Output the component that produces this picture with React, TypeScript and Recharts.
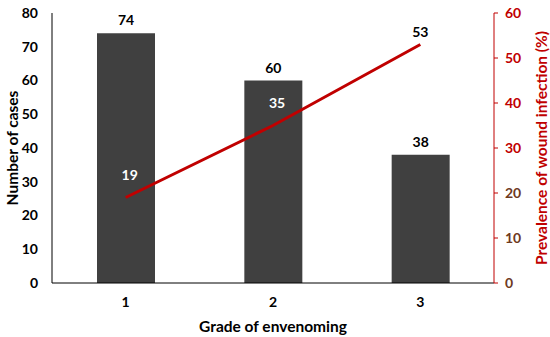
import { ComposedChart, Bar, Line, XAxis, YAxis, LabelList, Label } from 'recharts';

const grades = ['1', '2', '3'];
const cases = [74, 60, 38];
const prevalence = [19, 35, 53];
const leftTicks = [0, 10, 20, 30, 40, 50, 60, 70, 80];
const rightTicks = [0, 10, 20, 30, 40, 50, 60];

const data = grades.map((g, i) => ({ grade: g, cases: cases[i], prevalence: prevalence[i] }));

const font = 'Lato, "Open Sans", sans-serif';
const red = '#c00000';

function RightTick(props: any) {
  const { x, y, payload } = props;
  const v = payload.value;
  return (
    <text x={x} y={y} dy={5} textAnchor="start" fontFamily={font} fontWeight={700} fontSize={14}
      fill={v <= 20 ? '#6e3a1e' : red}>
      {v}
    </text>
  );
}

function LineLabel(props: any) {
  const { x, y, value, index } = props;
  const last = index === prevalence.length - 1;
  return (
    <text x={x + (last ? 0 : 4)} y={y - (last ? 13 : 23)} dy={5} textAnchor="middle"
      fontFamily={font} fontWeight={700} fontSize={14} fill={last ? '#000' : '#fff'}>
      {value}
    </text>
  );
}

export default function App() {
  return (
    <div style={{ position: 'absolute', left: 0, top: 0, background: '#fff' }}>
      <ComposedChart width={550} height={337} data={data}
        margin={{ top: 13, right: 0, bottom: 0, left: 0 }}>
        <XAxis dataKey="grade" height={54} tickLine={false} tickMargin={8}
          axisLine={{ stroke: '#000' }}
          tick={{ fill: '#000', fontFamily: font, fontWeight: 700, fontSize: 14 }}>
          <Label value="Grade of envenoming" position="insideBottom" offset={5}
            style={{ fill: '#000', fontFamily: font, fontWeight: 700, fontSize: 15.5 }} />
        </XAxis>
        <YAxis yAxisId="left" width={52} domain={[0, 80]} ticks={leftTicks} interval={0}
          tickLine={false} tickMargin={8} axisLine={{ stroke: '#000' }}
          tick={{ fill: '#000', fontFamily: font, fontWeight: 700, fontSize: 14 }}>
          <Label value="Number of cases" angle={-90} position="insideLeft" offset={12}
            style={{ textAnchor: 'middle', fill: '#000', fontFamily: font, fontWeight: 700, fontSize: 15.5 }} />
        </YAxis>
        <YAxis yAxisId="right" orientation="right" width={56} domain={[0, 60]} ticks={rightTicks}
          interval={0} tickSize={4} tickMargin={7} axisLine={{ stroke: red }} tickLine={{ stroke: red }}
          tick={<RightTick />}>
          <Label value="Prevalence of wound infection (%)" angle={-90} position="insideRight" offset={9}
            style={{ textAnchor: 'middle', fill: red, fontFamily: font, fontWeight: 700, fontSize: 15.5 }} />
        </YAxis>
        <Bar yAxisId="left" dataKey="cases" fill="#404040" barSize={58} isAnimationActive={false}>
          <LabelList dataKey="cases" position="top" offset={8}
            style={{ fill: '#000', fontFamily: font, fontWeight: 700, fontSize: 14 }} />
        </Bar>
        <Line yAxisId="right" dataKey="prevalence" stroke={red} strokeWidth={3} dot={false}
          type="linear" isAnimationActive={false}>
          <LabelList dataKey="prevalence" content={<LineLabel />} />
        </Line>
      </ComposedChart>
    </div>
  );
}
